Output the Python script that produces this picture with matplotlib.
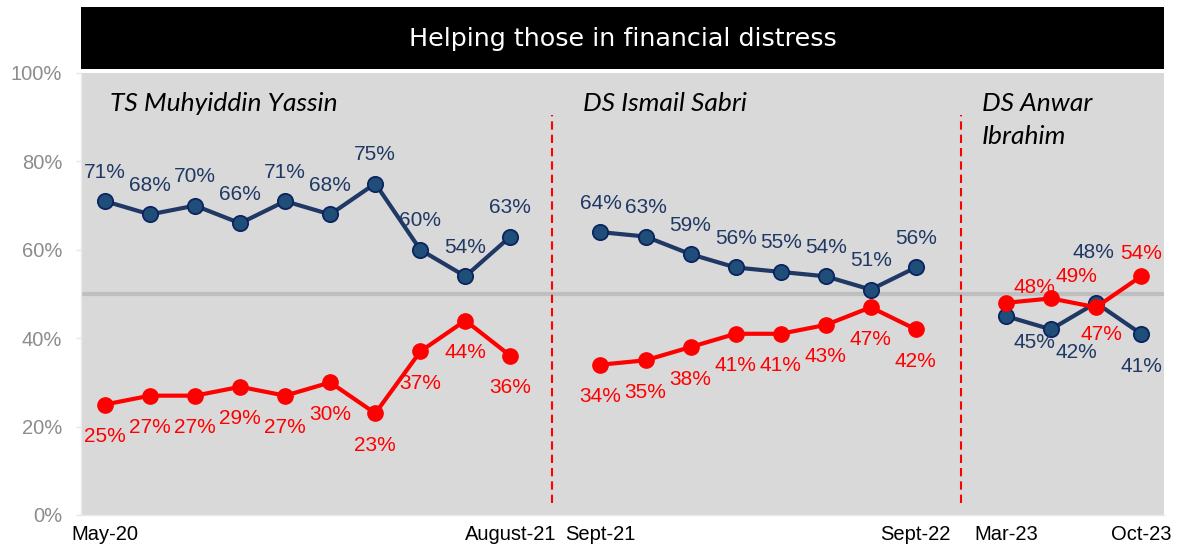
import matplotlib
matplotlib.use("Agg")
import matplotlib.pyplot as plt
from matplotlib.patches import Rectangle

# ---------------- data ----------------
title = "Helping those in financial distress"
period_names = ["TS Muhyiddin Yassin", "DS Ismail Sabri", "DS Anwar\nIbrahim"]

seg1_blue = [71, 68, 70, 66, 71, 68, 75, 60, 54, 63]
seg1_red = [25, 27, 27, 29, 27, 30, 23, 37, 44, 36]
seg2_blue = [64, 63, 59, 56, 55, 54, 51, 56]
seg2_red = [34, 35, 38, 41, 41, 43, 47, 42]
seg3_blue = [45, 42, 48, 41]
seg3_red = [48, 49, 47, 54]

tick_labels = ["May-20", "August-21", "Sept-21", "Sept-22", "Mar-23", "Oct-23"]
y_ticks = [0, 20, 40, 60, 80, 100]

# ---------------- layout / style ----------------
W, H = 1178, 546
BLUE_LINE = "#1F3864"
BLUE_FILL = "#1F4E79"
BLUE_EDGE = "#0B2460"
BLUE_TEXT = "#1F3864"
RED = "#FF0000"
LABEL_FONT = "Liberation Sans"

seg_starts = [0, 11, 20]           # x index where each segment starts
divider_x = [9.92, 19.0]           # dashed separators

fig = plt.figure(figsize=(W / 100, H / 100), dpi=100)
ax = fig.add_axes([81 / W, 1 - 515 / H, (1164 - 81) / W, (515 - 73) / H])
ax.set_facecolor("#D9D9D9")
ax.set_xlim(-0.533, 23.51)
ax.set_ylim(0, 100)

# title bar
fig.patches.append(Rectangle((81 / W, 1 - 69 / H), (1164 - 81) / W, 62 / H,
                             transform=fig.transFigure, facecolor="black",
                             edgecolor="none", zorder=0))
fig.text(622.5 / W, 1 - 39 / H, title, color="white", ha="center", va="center",
         fontsize=18.3, family="DejaVu Sans")

# 50% reference line
ax.axhline(50, color="#BFBFBF", lw=3, zorder=1)

# dividers
for dx in divider_x:
    ax.plot([dx, dx], [2.7, 90.5], color=RED, lw=1.5, dashes=(4, 2.4), zorder=1)

segments = [(seg1_blue, seg1_red), (seg2_blue, seg2_red), (seg3_blue, seg3_red)]

# label offsets in pixels (dx, dy down-positive)
default_blue = (0, -29)
default_red = (0, 32)
seg3_blue_off = [(29, 26), (25, 23), (-3, -50), (0, 33)]
seg3_red_off = [(29, -15), (25, -22), (5, 27), (0, -23)]

for si, (blue, red) in enumerate(segments):
    xs = [seg_starts[si] + i for i in range(len(blue))]
    ax.plot(xs, blue, color=BLUE_LINE, lw=3, marker="o", ms=11,
            mfc=BLUE_FILL, mec=BLUE_EDGE, mew=1.3, zorder=3,
            solid_joinstyle="round")
    ax.plot(xs, red, color=RED, lw=3, marker="o", ms=11,
            mfc=RED, mec=RED, mew=1.0, zorder=4, solid_joinstyle="round")
    for i, (x, b, r) in enumerate(zip(xs, blue, red)):
        bo = seg3_blue_off[i] if si == 2 else default_blue
        ro = seg3_red_off[i] if si == 2 else default_red
        ax.annotate(f"{b}%", (x, b), xytext=(bo[0] * 0.72, -bo[1] * 0.72),
                    textcoords="offset points", ha="center", va="center",
                    fontsize=15, color=BLUE_TEXT, family=LABEL_FONT, zorder=5)
        ax.annotate(f"{r}%", (x, r), xytext=(ro[0] * 0.72, -ro[1] * 0.72),
                    textcoords="offset points", ha="center", va="center",
                    fontsize=15, color=RED, family=LABEL_FONT, zorder=5)

# period names (each line placed separately)
name_x = [0.12, 10.61, 19.47]
line_y = [93.2, 85.6]
for px, name in zip(name_x, period_names):
    for li, line in enumerate(name.split("\n")):
        ax.text(px, line_y[li], line, ha="left", va="center", fontsize=19,
                style="italic", family="Lato", color="black", zorder=5)

# axes styling
tick_x = [0, 9, 11, 18, 20, 23]
ax.set_xticks(tick_x)
ax.set_xticklabels(tick_labels, fontsize=14.5, family=LABEL_FONT, color="black")
ax.tick_params(axis="x", length=0, pad=7)
ax.set_yticks(y_ticks)
ax.set_yticklabels([f"{v}%" for v in y_ticks], fontsize=14.5, family=LABEL_FONT,
                   color="#8C8C8C")
ax.tick_params(axis="y", length=3.6, width=1, color="#E6E6E6", pad=10)
for s in ["top", "right"]:
    ax.spines[s].set_visible(False)
for s in ["left", "bottom"]:
    ax.spines[s].set_color("#EAEAEA")
    ax.spines[s].set_linewidth(1)

fig.savefig("out.png", dpi=100)
